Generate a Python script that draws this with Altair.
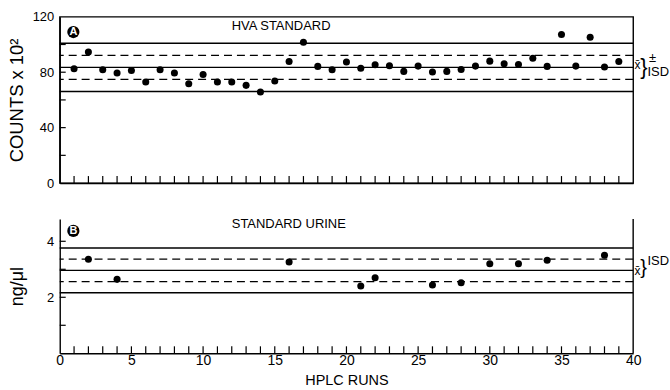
import altair as alt
import pandas as pd

# ---------------- data ----------------
runs_hva = list(range(1, 40))
counts_hva = [82.5, 94.5, 81.8, 79.4, 81.3, 72.9, 81.8, 79.4, 71.7, 78.4,
              72.9, 72.9, 70.5, 65.7, 73.6, 87.8, 101.7, 84.2, 81.8, 87.3,
              82.9, 85.4, 84.6, 80.6, 84.4, 80.1, 80.6, 82.0, 84.4, 88.0,
              86.1, 85.6, 90.1, 84.2, 107.2, 84.4, 105.3, 83.7, 87.8]
hva_mean = 83.5
hva_sd = 8.7

runs_urine = [2, 4, 16, 21, 22, 26, 28, 30, 32, 34, 38]
conc_urine = [3.36, 2.64, 3.26, 2.40, 2.70, 2.44, 2.52, 3.20, 3.20, 3.32, 3.50]
urine_mean = 2.96
urine_sd = 0.40

x_tick_values = list(range(1, 40))
x_label_values = [0, 5, 10, 15, 20, 25, 30, 35, 40]
hva_y_ticks = [20, 40, 60, 80, 100]
hva_y_labels = [0, 40, 80, 120]
urine_y_ticks = [1, 2, 3, 4]
urine_y_labels = [2, 4]

FONT = "Liberation Sans"
W = 576
H1 = 167
H2 = 135
BLACK = "#000000"

xscale = alt.Scale(domain=[0, 40], nice=False, zero=False)


def build_panel(yscale, xaxis, yaxis, mean, sd, pts_x, pts_y, ytick_vals, h,
                letter, badge_y, label, label_y, annotations, extra=None):
    def X(field):
        return alt.X(field, scale=xscale, axis=xaxis)

    def Y(field):
        return alt.Y(field, scale=yscale, axis=yaxis)

    layers = []
    solid = pd.DataFrame({"y": [mean - 2 * sd, mean, mean + 2 * sd]})
    dashed = pd.DataFrame({"y": [mean - sd, mean + sd]})
    layers.append(alt.Chart(solid).mark_rule(color=BLACK, strokeWidth=1.4).encode(
        y=Y("y:Q")))
    layers.append(alt.Chart(dashed).mark_rule(color=BLACK, strokeWidth=1.2,
                                              strokeDash=[8, 5]).encode(y=Y("y:Q")))
    layers.append(alt.Chart(pd.DataFrame({"x": pts_x, "y": pts_y})).mark_circle(
        size=50, color=BLACK, opacity=1).encode(x=X("x:Q"), y=Y("y:Q")))
    # inward ticks
    layers.append(alt.Chart(pd.DataFrame({"x": x_tick_values})).mark_rule(
        color=BLACK, strokeWidth=1.2).encode(
        x=X("x:Q"), y=alt.value(h), y2=alt.value(h - 7)))
    layers.append(alt.Chart(pd.DataFrame({"y": ytick_vals})).mark_rule(
        color=BLACK, strokeWidth=1.2).encode(
        y=Y("y:Q"), x=alt.value(0), x2=alt.value(6)))
    if extra is not None:
        layers.append(extra(X, Y))

    def txt(text, x, y, size=12, align="left", color=BLACK, weight="normal"):
        return alt.Chart(pd.DataFrame({"x": [x], "y": [y]})).mark_text(
            text=text, font=FONT, fontSize=size, align=align, baseline="middle",
            color=color, fontWeight=weight).encode(x=X("x:Q"), y=Y("y:Q"))

    # badge
    layers.append(alt.Chart(pd.DataFrame({"x": [0.95], "y": [badge_y]})).mark_circle(
        size=150, color=BLACK, opacity=1).encode(x=X("x:Q"), y=Y("y:Q")))
    layers.append(txt(letter, 0.95, badge_y, size=11, align="center",
                      color="white", weight="bold"))
    layers.append(txt(label, 12.0, label_y, size=13))
    for a in annotations:
        layers.append(txt(*a))
    return alt.layer(*layers)


def common_axis(**kw):
    base = dict(grid=False, domainColor=BLACK, domainWidth=1.4, labelColor=BLACK,
                titleColor=BLACK, labelFont=FONT, titleFont=FONT,
                titleFontWeight="normal")
    base.update(kw)
    return alt.Axis(**base)


# ---------------- top panel ----------------
y1 = alt.Scale(domain=[0, 120], nice=False)
y1_axis = common_axis(values=hva_y_labels, ticks=False, labelPadding=6,
                      labelFontSize=13, title="COUNTS  x  10²", titleFontSize=18.5,
                      titleX=-33, titleBaseline="bottom")
x1_axis = common_axis(labels=False, ticks=False, title=None)
ann1 = [
    ("x̄", 40.1, hva_mean + 2.0, 12),
    ("}", 40.5, hva_mean, 22),
    ("±", 41.1, hva_mean + 7.0, 13),
    ("ISD", 41.0, hva_mean - 3.6, 13),
]
top = build_panel(y1, x1_axis, y1_axis, hva_mean, hva_sd, runs_hva, counts_hva,
                  hva_y_ticks, H1, "A", 109, "HVA  STANDARD", 113.7, ann1
                  ).properties(width=W, height=H1)

# ---------------- bottom panel ----------------
y2 = alt.Scale(domain=[0, 4.8], nice=False)
y2_axis = common_axis(values=urine_y_labels, ticks=False, labelPadding=6,
                      labelFontSize=13, title="ng/μl", titleFontSize=18,
                      titleX=-33, titleBaseline="bottom")
x2_axis = common_axis(values=x_label_values, ticks=False, labelPadding=0,
                      labelFontSize=14, labelFlush=False, title="HPLC   RUNS",
                      titleFontSize=14.5, titlePadding=6)
ann2 = [
    ("}", 40.5, urine_mean + 0.1, 20),
    ("ISD", 41.0, urine_mean + 0.33, 13),
    ("x̄", 40.1, urine_mean - 0.02, 12),
]


def right_edge(X, Y):
    return alt.Chart(pd.DataFrame({"x": [40]})).mark_rule(
        color=BLACK, strokeWidth=1.4).encode(x=X("x:Q"))


bottom = build_panel(y2, x2_axis, y2_axis, urine_mean, urine_sd, runs_urine,
                     conc_urine, urine_y_ticks, H2, "B", 4.37, "STANDARD  URINE",
                     4.62, ann2, extra=right_edge
                     ).properties(width=W, height=H2,
                                  view=alt.ViewBackground(stroke=None))

chart = alt.vconcat(top, bottom, spacing=27).properties(
    padding={"left": 7, "top": 9, "right": 0, "bottom": 0},
    background="white",
).configure(font=FONT).configure_view(stroke=BLACK, strokeWidth=1.4)

chart.save("out.html", embed_options={"renderer": "svg", "actions": False})
